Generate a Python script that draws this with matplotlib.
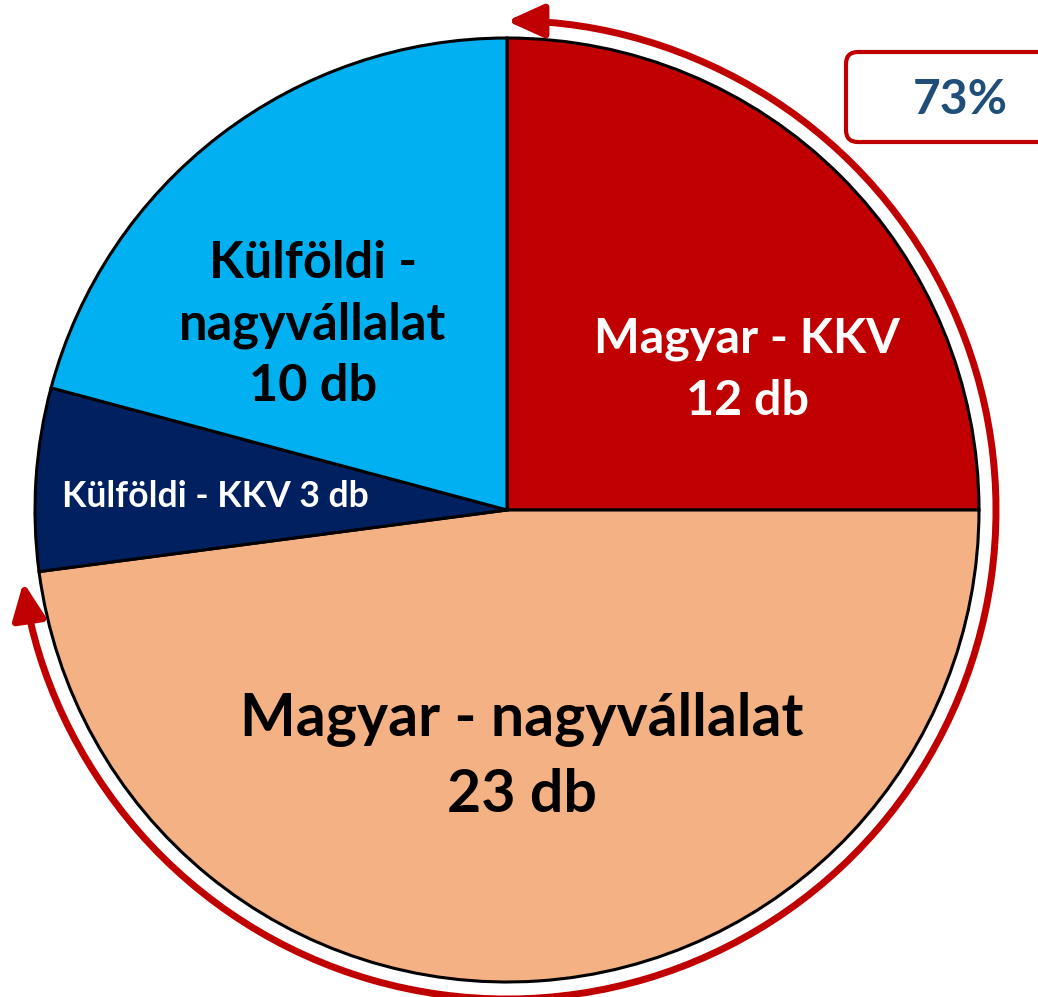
import matplotlib
matplotlib.use('Agg')
import matplotlib.pyplot as plt
from matplotlib.patches import FancyArrowPatch, FancyBboxPatch
from matplotlib.path import Path
from matplotlib.transforms import Affine2D

# data
categories = ['Magyar - KKV', 'Magyar - nagyvállalat', 'Külföldi - KKV', 'Külföldi - nagyvállalat']
counts = [12, 23, 3, 10]
colors = ['#C00000', '#F4B183', '#002060', '#00B0F0']
share_label = '73%'

W, H = 1038, 997
fig = plt.figure(figsize=(W / 100, H / 100), dpi=100)
ax = fig.add_axes([0, 0, 1, 1])

cx, cy, r = 507, H - 510, 472
wedges, _ = ax.pie(counts, colors=colors, startangle=90, counterclock=False,
                   center=(cx, cy), radius=r, frame=True,
                   wedgeprops=dict(edgecolor='black', linewidth=2.2))
ax.set_xlim(0, W)
ax.set_ylim(0, H)
ax.set_aspect('equal')
ax.axis('off')

font = ['Lato', 'DejaVu Sans']

# labels
ax.text(747, H - 370, 'Magyar - KKV\n12 db', ha='center', va='center', color='white',
        fontsize=34.9, fontweight='bold', family=font, linespacing=1.48)
ax.text(522, H - 757, 'Magyar - nagyvállalat\n23 db', ha='center', va='center', color='black',
        fontsize=42.5, fontweight='bold', family=font, linespacing=1.48)
ax.text(215, H - 497, 'Külföldi - KKV 3 db', ha='center', va='center', color='white',
        fontsize=25.7, fontweight='bold', family=font)
ax.text(313, H - 325, 'Külföldi -\nnagyvállalat\n10 db', ha='center', va='center', color='black',
        fontsize=36.4, fontweight='bold', family=font, linespacing=1.38)

# arrow around the Magyar share
magyar = counts[0] + counts[1]
end_angle = 90 - 360 * magyar / sum(counts)
arc = Path.arc(end_angle + 1, 90)
arc = Affine2D().scale(489).translate(cx, cy).transform_path(arc)
arrow = FancyArrowPatch(path=arc, arrowstyle='<|-|>,head_length=1.1,head_width=0.5',
                        mutation_scale=20, color='#C00000', linewidth=5)
ax.add_patch(arrow)

# percentage box
box = FancyBboxPatch((846, H - 142), 220, 90, boxstyle='round,pad=0,rounding_size=12',
                     facecolor='white', edgecolor='#C00000', linewidth=3, clip_on=False)
ax.add_patch(box)
ax.text(960, H - 100, share_label, ha='center', va='center', color='#1F4E79',
        fontsize=34.5, fontweight='bold', family=font)

fig.savefig('out.png', dpi=100)
